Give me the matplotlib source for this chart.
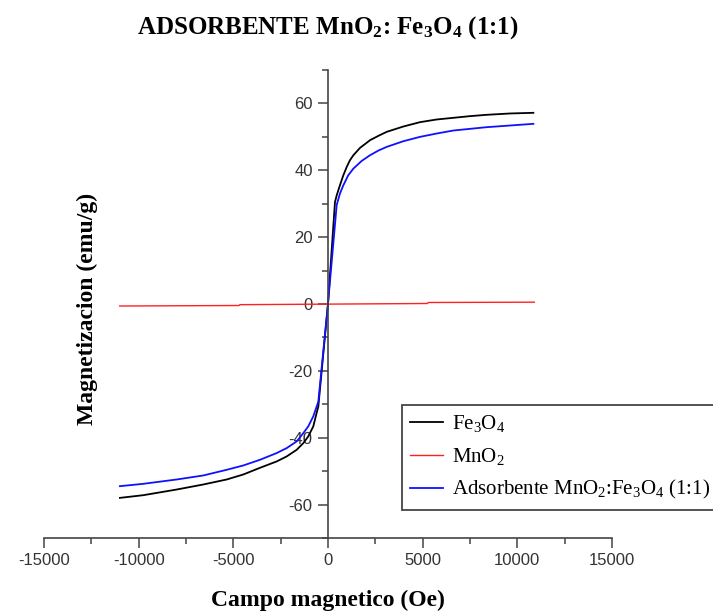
import matplotlib
matplotlib.use("Agg")
import matplotlib.pyplot as plt
from matplotlib.ticker import MultipleLocator

plt.rcParams["axes.unicode_minus"] = False
plt.rcParams["mathtext.fontset"] = "custom"
plt.rcParams["mathtext.rm"] = "Liberation Serif"
plt.rcParams["mathtext.it"] = "Liberation Serif"
plt.rcParams["mathtext.bf"] = "Liberation Serif:bold"

# Fe3O4 hysteresis loop (field in Oe, magnetization in emu/g)
fe3o4_field = [-10990, -9760, -7990, -6590, -5350, -4470, -3590, -2710, -2180,
               -1650, -1300, -1040, -775, -600, -510, 0, 370, 460, 630, 810,
               990, 1160, 1340, 1690, 2220, 2660, 3100, 3980, 4860, 5740, 6620,
               7500, 8380, 9620, 10850]
fe3o4_mag = [-58.0, -57.2, -55.5, -54.0, -52.5, -51.0, -49.0, -47.1, -45.6,
             -43.6, -41.6, -39.6, -36.6, -32.6, -30.7, 0.0, 30.5, 32.5, 35.5,
             38.5, 41.0, 43.0, 44.5, 46.7, 49.0, 50.3, 51.5, 53.1, 54.4, 55.2,
             55.7, 56.2, 56.6, 57.0, 57.2]

# MnO2 (practically non-magnetic)
mno2_field = [-11000, -4700, -4650, 5250, 5300, 10900]
mno2_mag = [-0.6, -0.45, -0.2, 0.15, 0.45, 0.55]

# composite adsorbent MnO2:Fe3O4 (1:1)
ads_field = [-10990, -9760, -7990, -6590, -5350, -4470, -3590, -2710, -2180,
             -1650, -1300, -1040, -775, -600, -510, 0, 460, 630, 810, 1070,
             1340, 1780, 2220, 2660, 3100, 3980, 4860, 5740, 6620, 7500, 8380,
             9620, 10850]
ads_mag = [-54.5, -53.8, -52.5, -51.3, -49.6, -48.3, -46.6, -44.6, -43.1,
           -41.1, -38.6, -36.6, -33.6, -30.7, -29.2, 0.0, 29.6, 33.0, 35.5,
           38.5, 40.5, 42.8, 44.5, 45.9, 47.0, 48.7, 50.0, 51.0, 51.9, 52.4,
           52.9, 53.4, 53.9]

fig = plt.figure(figsize=(7.13, 6.11), dpi=100)
ax = fig.add_axes([0.0617, 0.1195, 0.7966, 0.7659])

ax.plot(fe3o4_field, fe3o4_mag, color="black", lw=1.3, label=r"Fe$_3$O$_4$")
ax.plot(mno2_field, mno2_mag, color="#ff2020", lw=1.0, label=r"MnO$_2$")
ax.plot(ads_field, ads_mag, color="#1010ff", lw=1.3,
        label=r"Adsorbente MnO$_2$:Fe$_3$O$_4$ (1:1)")

ax.set_xlim(-15000, 15000)
ax.set_ylim(-70, 70)

# y axis runs through zero field, x axis sits at the bottom
ax.spines["left"].set_position(("data", 0))
ax.spines["top"].set_visible(False)
ax.spines["right"].set_visible(False)
for s in ["left", "bottom"]:
    ax.spines[s].set_color("#444444")
    ax.spines[s].set_linewidth(1.2)

ax.xaxis.set_major_locator(MultipleLocator(5000))
ax.xaxis.set_minor_locator(MultipleLocator(2500))
ax.set_yticks([-60, -40, -20, 0, 20, 40, 60])
ax.yaxis.set_minor_locator(MultipleLocator(10))
ax.tick_params(which="major", length=7, width=1.1, color="#444444",
               labelsize=12, labelcolor="#333333", pad=4)
ax.tick_params(which="minor", length=4, width=1.1, color="#444444")
for lbl in ax.get_xticklabels() + ax.get_yticklabels():
    lbl.set_family("Liberation Sans")

ax.set_xlabel("Campo magnetico (Oe)", fontsize=17, fontweight="bold",
              family="Liberation Serif")
ax.set_ylabel("Magnetizacion (emu/g)", fontsize=17, fontweight="bold",
              family="Liberation Serif")
ax.xaxis.set_label_coords(0.5, -0.11)
ax.yaxis.set_label_coords(0.095, 0.49)

ax.set_title(r"ADSORBENTE MnO$_\mathbf{2}$: Fe$_\mathbf{3}$O$_\mathbf{4}$ (1:1)",
             fontsize=18, fontweight="bold", family="Liberation Serif",
             pad=26)

leg = ax.legend(loc="upper left", bbox_to_anchor=(0.630, 0.284),
                borderaxespad=0, fancybox=False, framealpha=1,
                edgecolor="#444444", handlelength=1.6, handletextpad=0.4,
                labelspacing=0.55, prop={"family": "Liberation Serif", "size": 15})
leg.get_frame().set_linewidth(1.3)

fig.savefig("out.png", dpi=100)
